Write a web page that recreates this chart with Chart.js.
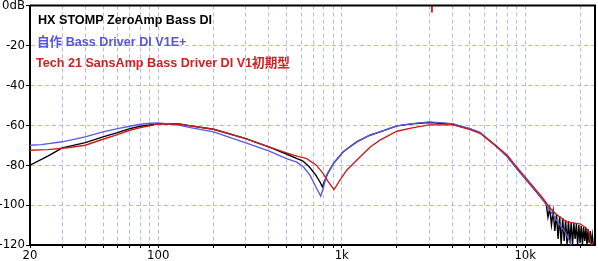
<!DOCTYPE html>
<html><head><meta charset="utf-8">
<script src="https://cdn.jsdelivr.net/npm/chart.js@4/dist/chart.umd.min.js"></script>
<style>html,body{margin:0;padding:0;background:#fff;overflow:hidden}</style>
</head><body>
<canvas id="c" width="598" height="261" style="display:block;width:598px;height:261px"></canvas>
<script>
// ---- data ----
const seriesNames = ['HX STOMP ZeroAmp Bass DI', '自作 Bass Driver DI V1E+', 'Tech 21 SansAmp Bass Driver DI V1初期型'];

const hxFreq = [20,25,30,40,50,60,70,80,90,100,130,150,200,300,400,500,570,612,665,722,760,784,810,840,900,1019,1206,1424,1616,2000,2420,3000,4000,5000,5700,6000,7000,8000,9000,10000,11500,12500,
  13000,13300,13600,13900,14200,14500,14800,15100,15400,15700,16000,16300,16600,16900,17200,17500,17800,18100,18400,18700,19000,19300,19600,19900,20200,20500,20800,21100,21400,21700,22000,22300,22600,22900,23200,23500];
const hxDb = [-80,-75.5,-71.3,-68.7,-65.8,-63.7,-61.7,-60.5,-59.8,-59.2,-59.4,-60.3,-62,-66.7,-70.8,-74.4,-76.7,-77.8,-80.8,-85,-88.3,-90.8,-87.5,-84,-79.2,-73.3,-68.3,-65,-63.3,-60.3,-59.3,-58.6,-59.4,-61.8,-63.8,-65.8,-70.8,-75.8,-81.7,-86.7,-93.3,-97.5,
  -99,-106,-101.5,-110,-103,-113,-104.5,-117,-105.5,-120,-106.5,-118,-107.5,-120,-108,-119,-108.5,-120,-109,-117,-109.5,-120,-110,-119,-110.5,-120,-111,-118,-111.5,-120,-112,-119,-113,-120,-115,-120];

const diyFreq = [20,23,30,40,50,60,70,80,90,100,131,150,200,300,400,500,570,617,671,730,768,792,810,828,900,1019,1206,1424,1616,2000,2420,3000,4000,5000,5700,6000,7000,8000,9000,10000,11500,12500,13600,14800,16700,17800];
const diyDb = [-70,-69.7,-68.3,-65.8,-63.3,-61.7,-60.5,-59.5,-59,-58.8,-60,-61.2,-63.3,-68.8,-72.8,-76.7,-78.5,-80.8,-85,-91.7,-95.5,-91.7,-88,-85,-79.2,-73.3,-68.3,-65,-63.3,-60.3,-59.2,-58.3,-59.2,-61.7,-63.7,-65.8,-70.8,-75.8,-81.7,-86.7,-93.3,-97.5,-102.5,-107.5,-114.2,-120];

const tech21Freq = [20,25,32,40,50,60,70,80,90,100,131,150,200,300,400,500,570,644,727,793,843,908,978,1064,1206,1424,1616,2000,2420,3000,4000,5000,5700,6000,7000,8000,9000,10000,11500,12500,13600,14800,16700,20000,21500,22300,22800,23500];
const tech21Db = [-72.5,-72.2,-71.3,-70,-67,-64.7,-62.5,-61.2,-60.3,-59.3,-59.5,-60.3,-62,-66.7,-70.8,-73.8,-75.5,-76.7,-80,-84.2,-88.3,-92.2,-87.5,-82.5,-77.5,-71,-67.5,-63,-61.3,-59.8,-59.7,-62.2,-64.2,-65.6,-70.5,-75.2,-81,-86,-92.7,-96.7,-101.3,-104.7,-108.3,-109.5,-111.5,-114,-120,-120];

const markerFreq = [3100, 3100];
const markerDb = [0, -3.5];

const xGridVals = [20,30,40,50,60,70,80,90,100,200,300,400,500,600,700,800,900,1000,2000,3000,4000,5000,6000,7000,8000,9000,10000,20000];
const xLabelVals = [20, 100, 1000, 10000];
const xLabelText = ['20', '100', '1k', '10k'];
const yLabelVals = [0, -20, -40, -60, -80, -100, -120];
const yLabelText = ['0dB', '-20', '-40', '-60', '-80', '-100', '-120'];

// ---- styling ----
const C_BLACK = '#000000';
const C_BLUE = '#5a5ae2';
const C_RED = '#c81e1e';
const GRID = '#b8b8f0';
const tickFont = { family: '"Liberation Sans Narrow", "DejaVu Sans Condensed", sans-serif', size: 13 };

const pts = (xs, ys) => xs.map((x, i) => ({ x: x, y: ys[i] }));

const legendText = {
  id: 'legendText',
  afterDraw(chart) {
    const ctx = chart.ctx;
    ctx.save();
    ctx.font = 'bold 12.6px "Liberation Sans", "Noto Sans CJK JP", sans-serif';
    ctx.textBaseline = 'middle';
    ctx.textAlign = 'left';
    const rows = [[C_BLACK, 38, 20.5], ['#5656dc', 37, 42.5], ['#cc2222', 36, 64]];
    rows.forEach((r, i) => { ctx.fillStyle = r[0]; ctx.fillText(seriesNames[i], r[1], r[2]); });
    ctx.restore();
  }
};
const frame = {
  id: 'frame',
  afterDatasetsDraw(chart) {
    const a = chart.chartArea, ctx = chart.ctx;
    ctx.save();
    ctx.strokeStyle = '#000';
    ctx.lineWidth = 2;
    ctx.beginPath();
    ctx.moveTo(a.left, a.top); ctx.lineTo(a.right, a.top); ctx.lineTo(a.right, a.bottom);
    ctx.stroke();
    ctx.restore();
  }
};

new Chart(document.getElementById('c'), {
  type: 'line',
  data: {
    datasets: [
      { label: seriesNames[2], data: pts(tech21Freq, tech21Db), borderColor: C_RED, borderWidth: 1.4, order: 1 },
      { label: seriesNames[1], data: pts(diyFreq, diyDb), borderColor: C_BLUE, borderWidth: 1.4, order: 2 },
      { label: seriesNames[0], data: pts(hxFreq, hxDb), borderColor: C_BLACK, borderWidth: 1.4, order: 3 },
      { label: 'marker', data: pts(markerFreq, markerDb), borderColor: '#e02020', borderWidth: 2, order: 0 }
    ]
  },
  options: {
    responsive: false,
    animation: false,
    devicePixelRatio: 1,
    layout: { padding: { top: 5.5, right: 3, left: 0, bottom: 0 } },
    elements: { point: { radius: 0 }, line: { tension: 0, fill: false } },
    plugins: { legend: { display: false }, tooltip: { enabled: false } },
    scales: {
      x: {
        type: 'logarithmic', min: 20, max: 24000,
        afterBuildTicks(axis) { axis.ticks = xGridVals.map(v => ({ value: v })); },
        afterFit(s) { s.height = 16; s.paddingLeft = 0; s.paddingRight = 0; },
        ticks: {
          autoSkip: false, maxRotation: 0, minRotation: 0, padding: 0, color: '#000', font: tickFont,
          callback(v) { const i = xLabelVals.indexOf(v); return i >= 0 ? xLabelText[i] : ''; }
        },
        grid: { color: GRID, lineWidth: 1, tickLength: 3, tickColor: '#000', tickBorderDash: [] },
        border: { color: '#000', width: 2, dash: [4, 3] }
      },
      y: {
        min: -120, max: 0,
        afterBuildTicks(axis) { axis.ticks = yLabelVals.map(v => ({ value: v })); },
        afterFit(s) { s.width = 30; s.paddingTop = 0; s.paddingBottom = 0; },
        ticks: {
          padding: 1, color: '#000', font: tickFont,
          callback(v) { const i = yLabelVals.indexOf(v); return i >= 0 ? yLabelText[i] : ''; }
        },
        grid: { color: GRID, lineWidth: 1, tickLength: 4, tickColor: '#000', tickBorderDash: [] },
        border: { color: '#000', width: 2, dash: [4, 3] }
      }
    }
  },
  plugins: [legendText, frame]
});
</script>
</body></html>
